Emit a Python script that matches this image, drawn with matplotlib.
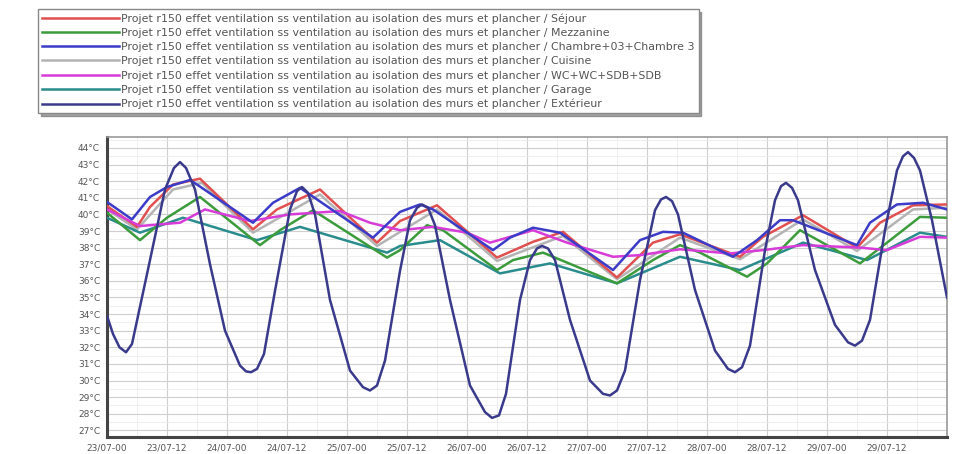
import numpy as np
import matplotlib.pyplot as plt
from matplotlib.ticker import MultipleLocator

# heures depuis le 23/07 00h
prefixe = "Projet r150 effet ventilation ss ventilation au isolation des murs et plancher / "
zones = ["Séjour", "Mezzanine", "Chambre+03+Chambre 3", "Cuisine",
         "WC+WC+SDB+SDB", "Garage", "Extérieur"]
couleurs = ["#e05050", "#3c9c3c", "#3c3cc8", "#b4b4b4", "#d83cd8", "#2a8c8c", "#3a3a8c"]

h_sejour = [0, 6, 8.6, 13.2, 18.6, 29.2, 34, 42.6, 54, 58.6, 66, 78, 85.2, 91.2, 102,
            109.2, 114.6, 126.6, 131.2, 139.2, 150, 154.6, 161.2, 168]
t_sejour = [40.5, 39.25, 40.45, 41.8, 42.15, 39.1, 40.3, 41.5, 38.3, 39.6, 40.55, 37.4, 38.35,
            38.95, 36.2, 38.3, 38.8, 37.45, 38.65, 39.95, 38.0, 39.5, 40.55, 40.6]

h_mezz = [0, 3.6, 6.6, 12, 18.6, 30.6, 34.6, 41.2, 56, 58.6, 64, 67.2, 78, 81.2, 87.2,
          102, 109.2, 114.6, 118.6, 128, 132, 138.6, 150.6, 156, 162.6, 168]
t_mezz = [40.1, 39.2, 38.45, 39.8, 41.05, 38.15, 39.05, 40.25, 37.4, 37.85, 39.35, 39.05,
          36.65, 37.25, 37.7, 35.85, 37.25, 38.15, 37.7, 36.25, 37.05, 39.05, 37.05, 38.3,
          39.85, 39.8]

h_chambre = [0, 5, 8.6, 12, 16.6, 18, 29.2, 33.2, 38.6, 53.2, 58.6, 62.6, 65.2, 77.2, 80.6,
             85.2, 90.6, 101.2, 106.6, 111.2, 115.2, 125.2, 130, 134.6, 137.2, 150, 152.6,
             158, 163.2, 168]
t_chambre = [40.75, 39.7, 41.05, 41.65, 42.07, 41.8, 39.5, 40.7, 41.6, 38.6, 40.15, 40.6,
             40.3, 37.85, 38.6, 39.2, 38.9, 36.65, 38.45, 38.95, 38.9, 37.45, 38.45, 39.65,
             39.65, 38.15, 39.5, 40.6, 40.7, 40.3]

h_cuisine = [0, 6, 13.2, 19, 29.2, 42.6, 54, 66, 78, 91.2, 102, 114.6, 126.6, 139.2, 150,
             161.2, 168]
t_cuisine = [40.3, 39.1, 41.5, 41.9, 38.9, 41.2, 38.1, 40.3, 37.2, 38.7, 36.1, 38.6, 37.3,
             39.7, 37.8, 40.3, 40.4]

h_wc = [0, 6.6, 14.6, 19.6, 28.6, 36.6, 46.6, 52.6, 58.6, 65.2, 72, 76.6, 85.2, 92,
        101.2, 106.6, 114.6, 124.6, 131.2, 139.2, 150.6, 156, 162.6, 168]
t_wc = [40.3, 39.3, 39.5, 40.3, 39.6, 40.0, 40.2, 39.5, 39.05, 39.25, 38.9, 38.3, 39.05,
        38.3, 37.45, 37.55, 37.9, 37.65, 37.85, 38.15, 38.0, 37.85, 38.65, 38.6]

h_garage = [0, 6.6, 15.2, 30, 38.6, 56, 58.6, 66.6, 78.6, 88.6, 102, 114.6, 126.6, 139.2,
            152, 162.6, 168]
t_garage = [39.8, 38.9, 39.8, 38.45, 39.25, 37.7, 38.1, 38.45, 36.45, 37.05, 35.85, 37.45,
            36.65, 38.3, 37.25, 38.9, 38.65]

h_ext = [0, 1.2, 2.5, 3.8, 5, 8.6, 11.6, 13.4, 14.6, 15.8, 17.6, 20.6, 23.6, 26.6, 27.8,
         28.8, 30, 31.4, 33.6, 36.6, 38, 39, 40.2, 41.6, 44.6, 48.6, 51.2, 52.6, 54,
         55.6, 58.6, 60.6, 62, 63, 64.2, 65.6, 68.6, 72.6, 75.6, 77, 78.4, 79.8, 82.6,
         84.6, 86, 87, 88.2, 89.6, 92.6, 96.6, 99.2, 100.6, 102, 103.6, 106.6, 109.6,
         110.8, 111.8, 113, 114.2, 117.6, 121.6, 124.2, 125.6, 127, 128.6, 131.6, 133.6,
         134.8, 135.8, 137, 138.2, 141.6, 145.6, 148.2, 149.6, 151, 152.6, 155.6, 158,
         159.2, 160.2, 161.4, 162.6, 165, 168]
t_ext = [33.9, 32.8, 32.0, 31.7, 32.2, 37.25, 41.5, 42.8, 43.15, 42.8, 41.5, 37.0, 33.0,
         30.9, 30.55, 30.5, 30.7, 31.6, 35.4, 40.3, 41.4, 41.65, 41.3, 40.0, 34.85, 30.6,
         29.6, 29.4, 29.7, 31.2, 36.6, 39.65, 40.4, 40.6, 40.4, 39.35, 34.85, 29.7, 28.1,
         27.75, 27.9, 29.2, 34.85, 37.25, 37.95, 38.1, 37.95, 37.25, 33.65, 30.0, 29.2,
         29.1, 29.4, 30.6, 36.05, 40.25, 40.9, 41.05, 40.8, 40.0, 35.45, 31.8, 30.7, 30.5,
         30.8, 32.1, 37.85, 40.85, 41.7, 41.9, 41.6, 40.85, 36.65, 33.35, 32.3, 32.1, 32.4,
         33.65, 39.05, 42.65, 43.5, 43.75, 43.4, 42.65, 39.65, 35.0]

x_labels = ["23/07-00", "23/07-12", "24/07-00", "24/07-12", "25/07-00", "25/07-12",
            "26/07-00", "26/07-12", "27/07-00", "27/07-12", "28/07-00", "28/07-12",
            "29/07-00", "29/07-12"]
y_values = list(range(27, 45))

fig = plt.figure(figsize=(9.54, 4.54), dpi=100)
ax = fig.add_axes([107 / 954, 1 - 437 / 454, 840 / 954, 300 / 454])

series = {
    "Séjour": (h_sejour, t_sejour),
    "Mezzanine": (h_mezz, t_mezz),
    "Chambre+03+Chambre 3": (h_chambre, t_chambre),
    "Cuisine": (h_cuisine, t_cuisine),
    "WC+WC+SDB+SDB": (h_wc, t_wc),
    "Garage": (h_garage, t_garage),
    "Extérieur": (h_ext, t_ext),
}
ordre = {"Cuisine": 2, "Garage": 3, "Mezzanine": 4, "Séjour": 5,
         "WC+WC+SDB+SDB": 6, "Chambre+03+Chambre 3": 7, "Extérieur": 8}

lignes = []
for nom, coul in zip(zones, couleurs):
    h, t = series[nom]
    l, = ax.plot(h, t, color=coul, lw=1.8, zorder=ordre[nom],
                 label=prefixe + nom, solid_joinstyle="round")
    lignes.append(l)

ax.set_xlim(0, 168)
ax.set_ylim(26.6, 44.66)
ax.set_xticks(np.arange(0, 168, 12))
ax.set_xticklabels(x_labels)
ax.xaxis.set_minor_locator(MultipleLocator(6))
ax.set_yticks(y_values)
ax.set_yticklabels([f"{v}°C" for v in y_values])
ax.yaxis.set_minor_locator(MultipleLocator(0.5))
ax.tick_params(which="both", length=0, labelsize=6.5, labelcolor="#555555", pad=5)
ax.grid(which="major", color="#cfcfcf", lw=0.8)
ax.grid(which="minor", color="#ececec", lw=0.6)
ax.set_axisbelow(True)

for cote in ["left", "bottom"]:
    ax.spines[cote].set_color("#444444")
    ax.spines[cote].set_linewidth(2.2)
for cote in ["top", "right"]:
    ax.spines[cote].set_color("#9a9a9a")
    ax.spines[cote].set_linewidth(1.2)

leg = fig.legend(handles=lignes, loc="upper left", bbox_to_anchor=(33 / 954, 1 - 4 / 454),
                 fontsize=7.9, handlelength=7.0, handletextpad=0.2, labelspacing=0.38,
                 borderpad=0.35, fancybox=False, shadow=True, framealpha=1,
                 edgecolor="#888888", labelcolor="#555555")
leg.get_frame().set_linewidth(1.0)

plt.savefig("out.png", dpi=100)
